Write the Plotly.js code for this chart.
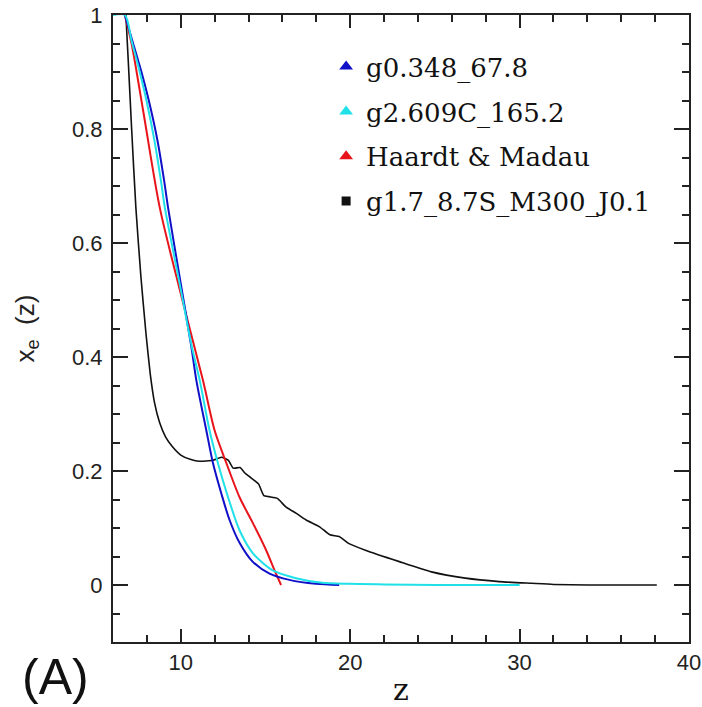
<!DOCTYPE html>
<html>
<head>
<meta charset="utf-8">
<script src="https://cdn.plot.ly/plotly-3.0.1.min.js"></script>
<style>
  html, body { margin: 0; padding: 0; background: #fff; }
  #chart { width: 702px; height: 707px; }
</style>
</head>
<body>
<div id="chart"></div>
<script>
// ---- data ----
const seriesNames = ["g0.348_67.8", "g2.609C_165.2", "Haardt & Madau", "g1.7_8.7S_M300_J0.1"];

const blueZ = [6.7, 7.15, 7.66, 8.12, 8.63, 9.02, 9.25, 9.97, 10.63, 10.92, 11.51, 11.90, 12.39, 12.88, 13.47, 14.24, 15.24, 16.41, 17.98, 19.35];
const blueX = [1.0, 0.954, 0.902, 0.849, 0.779, 0.709, 0.662, 0.534, 0.417, 0.359, 0.271, 0.214, 0.161, 0.114, 0.074, 0.041, 0.020, 0.009, 0.002, 0.0];

const cyanZ = [6.0, 6.7, 7.1, 7.56, 7.98, 8.45, 8.83, 9.06, 9.90, 10.66, 11.12, 11.70, 12.20, 12.78, 13.47, 14.25, 15.40, 16.80, 18.35, 19.90, 22.0, 25.0, 30.0];
const cyanX = [1.0, 1.0, 0.954, 0.902, 0.849, 0.779, 0.709, 0.662, 0.534, 0.417, 0.359, 0.271, 0.213, 0.155, 0.096, 0.056, 0.026, 0.012, 0.004, 0.002, 0.001, 0.0, 0.0];

const redZ = [6.7, 7.10, 7.78, 8.76, 10.06, 11.31, 12.0, 12.69, 13.47, 14.25, 15.04, 15.53, 15.92];
const redX = [1.0, 0.949, 0.832, 0.662, 0.504, 0.359, 0.271, 0.214, 0.154, 0.109, 0.061, 0.026, 0.0];

const blackZ = [6.76, 6.9, 7.1, 7.35, 7.65, 7.95, 8.2, 8.45, 8.75, 9.1, 9.5, 10.0, 10.6, 11.1, 11.9, 12.4, 12.8, 13.1, 13.5, 13.8, 14.06, 14.45, 14.6, 14.9, 15.2, 15.7, 16.2, 16.8, 17.4, 18.2, 18.8, 19.35, 19.9, 20.9, 22.9, 24.8, 26.8, 28.8, 30.7, 32.0, 34.0, 38.1];
const blackX = [1.0, 0.92, 0.80, 0.662, 0.54, 0.44, 0.37, 0.32, 0.285, 0.26, 0.243, 0.228, 0.22, 0.217, 0.219, 0.224, 0.219, 0.205, 0.206, 0.196, 0.190, 0.181, 0.177, 0.157, 0.155, 0.152, 0.137, 0.126, 0.114, 0.102, 0.088, 0.085, 0.073, 0.061, 0.041, 0.023, 0.012, 0.006, 0.003, 0.001, 0.0, 0.0];

const xTickVals = [10, 20, 30, 40];
const yTickVals = [0, 0.2, 0.4, 0.6, 0.8, 1];
const yTickText = ["0", "0.2", "0.4", "0.6", "0.8", "1"];

// ---- styles ----
const colors = ["#1010c8", "#20e0e8", "#e8141c", "#111111"];
const symbols = ["triangle-up", "triangle-up", "triangle-up", "square"];
const curves = [[blueZ, blueX], [cyanZ, cyanX], [redZ, redX], [blackZ, blackX]];
const drawOrder = [3, 2, 0, 1];

const traces = [];
drawOrder.forEach(i => {
  traces.push({
    x: curves[i][0], y: curves[i][1], type: "scatter", mode: "lines",
    line: { color: colors[i], width: i === 3 ? 1.6 : 2, shape: "spline", smoothing: i === 3 ? 0.5 : 0.8 },
    showlegend: false, hoverinfo: "skip"
  });
});
seriesNames.forEach((name, i) => {
  traces.push({
    x: [null], y: [null], type: "scatter", mode: "markers", name: name,
    legendgroup: "g" + i,
    marker: { color: colors[i], symbol: symbols[i], size: i === 3 ? 9 : 12 },
    showlegend: true
  });
});

const axisCommon = {
  showgrid: false, zeroline: false, showline: true, linecolor: "#222", linewidth: 2,
  mirror: "ticks", ticks: "inside", tickcolor: "#222", tickwidth: 2,
  tickfont: { family: "Liberation Sans, Arial, sans-serif", size: 22, color: "#222" }
};

const layout = {
  width: 702, height: 707,
  margin: { l: 113, r: 13, t: 15, b: 65 },
  paper_bgcolor: "#fff", plot_bgcolor: "#fff",
  showlegend: true,
  legend: {
    x: 0.37, xanchor: "left", y: 0.955, yanchor: "top",
    bgcolor: "rgba(0,0,0,0)", borderwidth: 0,
    traceorder: "grouped", tracegroupgap: 8, itemsizing: "trace",
    font: { family: "DejaVu Serif, serif", size: 26, color: "#111" }
  },
  xaxis: Object.assign({}, axisCommon, {
    range: [6, 40], tickmode: "array", tickvals: xTickVals, ticklen: 13,
    minor: { dtick: 2, tick0: 0, ticks: "inside", ticklen: 7, tickcolor: "#222", tickwidth: 2 },
    title: { text: "z", standoff: 8, font: { family: "DejaVu Serif, serif", size: 30, color: "#111" } }
  }),
  yaxis: Object.assign({}, axisCommon, {
    range: [-0.1, 1], tickmode: "array", tickvals: yTickVals, ticktext: yTickText, ticklen: 15,
    ticklabelstandoff: 4,
    minor: { dtick: 0.05, tick0: 0, ticks: "inside", ticklen: 7, tickcolor: "#222", tickwidth: 2 },
    title: { text: "x<sub>e</sub>  (z)", standoff: 30, font: { family: "Liberation Sans, Arial, sans-serif", size: 26, color: "#222" } }
  }),
  annotations: [{
    text: "(A)", xref: "paper", yref: "paper", x: -0.099, y: -0.056,
    xanchor: "center", yanchor: "middle", showarrow: false,
    font: { family: "Liberation Sans, Arial, sans-serif", size: 50, color: "#111" }
  }]
};

Plotly.newPlot("chart", traces, layout, { staticPlot: true, displayModeBar: false });
</script>
</body>
</html>
